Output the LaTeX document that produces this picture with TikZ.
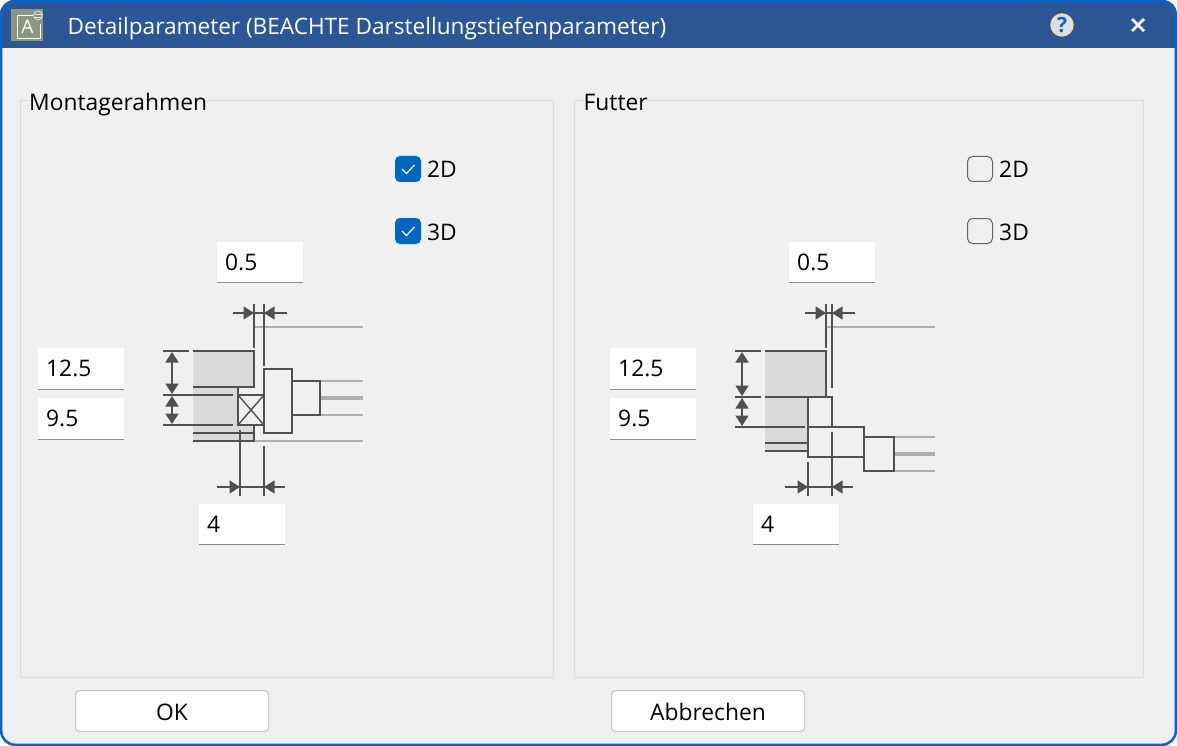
\documentclass[tikz,border=0pt]{standalone}
\usepackage{fontspec}
\setmainfont{Open Sans}
\usetikzlibrary{arrows.meta}
\definecolor{dialogbg}{HTML}{F0F0F0}
\definecolor{titlebar}{HTML}{2B5797}
\definecolor{winborder}{HTML}{0A64C8}
\definecolor{checkblue}{HTML}{0067C0}
\definecolor{darkline}{HTML}{505050}
\definecolor{greyline}{HTML}{B0B0B0}
\definecolor{wallfill}{HTML}{DADADA}
\definecolor{framegrey}{HTML}{DCDCDC}
\definecolor{iconfill}{HTML}{8A9780}
\tikzset{
    dline/.style={draw=darkline, line width=2pt},
    gline/.style={draw=greyline, line width=1.8pt},
    gthick/.style={draw=greyline, line width=4pt},
    dimarrow/.style={draw=darkline, line width=1.6pt, -{Triangle[length=10.5pt,width=13pt]}},
    wall/.style={fill=wallfill, draw=none},
    field/.style={fill=white, draw=none, minimum width=86pt, minimum height=41pt, inner sep=0pt},
    uitext/.style={anchor=base west, inner sep=0pt, text=black, font=\fontsize{22.8}{23}\selectfont},
    grouplabel/.style={uitext, fill=dialogbg, inner xsep=0pt, inner ysep=2pt},
    button/.style={fill=white, draw=black!22, line width=1pt, rounded corners=4pt, minimum width=193pt, minimum height=41pt, inner sep=0pt, text height=18pt, text depth=0pt, font=\fontsize{22.8}{23}\selectfont},
    checkbox/.style={rounded corners=5pt, minimum size=26pt, inner sep=0pt},
}
\begin{document}
\begin{tikzpicture}[x=1pt, y=-1pt]
    \useasboundingbox (0, 0) rectangle (1177, 746);
    % window
    \fill[white] (0, 0) rectangle (1177, 746);
    \fill[dialogbg, rounded corners=14pt] (0, 0) rectangle (1177, 746);
    \begin{scope}
        \clip[rounded corners=14pt] (0, 0) rectangle (1177, 746);
        \fill[titlebar] (0, 0) rectangle (1177, 48);
    \end{scope}
    \draw[winborder, line width=2.5pt, rounded corners=14pt] (1.2, 1.2) rectangle (1175.8, 744.8);
    % title bar
    \fill[iconfill] (11, 9) rectangle (43, 41);
    \draw[white, line width=0.9pt] (33, 15) -- (17, 15) -- (17, 38) -- (40, 38) -- (40, 24);
    \node[text=white, inner sep=0pt, font=\fontsize{19}{19}\selectfont] (iconA) at (27.5, 27) {A};
    \draw[white!75!iconfill, line width=0.8pt] (38, 15.5) circle (4.5);
    \draw[white!75!iconfill, line width=0.8pt] (34.5, 14.5) -- (41.5, 14.5) (34.5, 17) -- (41.5, 17);
    \node[uitext, text=white, font=\fontsize{22.6}{23}\selectfont] (title) at (67.5, 35) {Detailparameter (BEACHTE Darstellungstiefenparameter)};
    \draw[darkline, fill=black!13, line width=1.3pt] (1062, 25) circle (12.5);
    \node[text=winborder, inner sep=0pt, font=\fontsize{21}{21}\selectfont\bfseries] (help) at (1062, 25) {?};
    \draw[white, line width=2.6pt] (1132, 19) -- (1144, 31) (1144, 19) -- (1132, 31);
    % group frames
    \draw[framegrey, line width=1pt] (20.5, 100.5) rectangle (553.5, 677.5);
    \draw[framegrey, line width=1pt] (574.5, 100.5) rectangle (1143.5, 677.5);
    \node[grouplabel] (groupMontage) at (29, 111) {Montagerahmen};
    \node[grouplabel] (groupFutter) at (583.5, 111) {Futter};
    % check boxes
    \foreach \y/\t in {169/2D, 231/3D} {
        \node[checkbox, fill=checkblue] (checkL\t) at (408, \y) {};
        \draw[white, line width=1.2pt] (402, \y) -- (406.5, \y+4.5) -- (414.5, \y-4);
        \node[uitext] (textL\t) at (427, \y+9) {\t};
        \node[checkbox, draw=black!60, line width=1pt, minimum size=25pt] (checkR\t) at (980, \y) {};
        \node[uitext] (textR\t) at (999, \y+9) {\t};
    }
    % input fields
    \foreach \x/\y/\v[count=\i] in {260/262/0.5, 81/368.5/12.5, 81/418.5/9.5, 242/524/4, 832/262/0.5, 653/368.5/12.5, 653/418.5/9.5, 796/524/4} {
        \node[field] (field\i) at (\x, \y) {};
        \draw[black!45, line width=1pt] (field\i.south west) -- (field\i.south east);
        \node[uitext] (value\i) at (\x-35, \y+8) {\v};
    }
    % detail Montagerahmen
    \fill[wall] (193, 351) rectangle (254, 387);
    \fill[wall] (193, 387) rectangle (238, 441);
    \fill[wall] (238, 425) rectangle (254, 441);
    \draw[gline] (255, 327) -- (363, 327);
    \draw[gline] (254, 441) -- (363, 441);
    \draw[gline] (320, 381) -- (363, 381);
    \draw[gline] (320, 415) -- (363, 415);
    \draw[gthick] (320, 398) -- (363, 398);
    \draw[dline] (254, 304) -- (254, 348);
    \draw[dline] (264, 304) -- (264, 366);
    \draw[dline] (163, 351) -- (189, 351);
    \draw[dline] (193, 351) -- (254, 351) -- (254, 387) -- (193, 387);
    \draw[dline] (163, 395) -- (233, 395);
    \draw[dline] (163, 425) -- (233, 425);
    \draw[dline] (238, 395) rectangle (264, 425);
    \draw[dline] (238, 387) -- (238, 395);
    \draw[draw=darkline, line width=1.4pt] (238, 395) -- (264, 425) (238, 425) -- (264, 395);
    \draw[dline] (193, 433) -- (254, 433);
    \draw[dline] (193, 441) -- (254, 441) -- (254, 425);
    \draw[dline] (240, 430) -- (240, 496);
    \draw[dline] (264, 446) -- (264, 496);
    \draw[dline] (264, 369) rectangle (292, 433);
    \draw[dline] (292, 381) rectangle (320, 415);
    % dimensions Montagerahmen
    \draw[dimarrow] (233, 313) -- (254, 313);
    \draw[dimarrow] (287, 313) -- (264, 313);
    \draw[dline] (254, 313) -- (264, 313);
    \draw[dimarrow] (217, 487) -- (240, 487);
    \draw[dimarrow] (285, 487) -- (264, 487);
    \draw[dline] (240, 487) -- (264, 487);
    \draw[dimarrow] (172, 372) -- (172, 352);
    \draw[dimarrow] (172, 372) -- (172, 394);
    \draw[dimarrow] (172, 410) -- (172, 396);
    \draw[dimarrow] (172, 410) -- (172, 424);
    % detail Futter
    \fill[wall] (765, 351) rectangle (826, 397);
    \fill[wall] (765, 397) rectangle (808, 451);
    \draw[gline] (827, 327) -- (935, 327);
    \draw[gline] (894, 437) -- (935, 437);
    \draw[gline] (894, 471) -- (935, 471);
    \draw[gthick] (894, 454) -- (935, 454);
    \draw[dline] (826, 304) -- (826, 348);
    \draw[dline] (832, 304) -- (832, 388);
    \draw[dline] (735, 351) -- (761, 351);
    \draw[dline] (735, 397) -- (761, 397);
    \draw[dline] (765, 351) -- (826, 351) -- (826, 397);
    \draw[dline] (765, 397) -- (832, 397);
    \draw[dline] (735, 427) -- (805, 427);
    \draw[dline] (808, 397) rectangle (832, 427);
    \draw[dline] (808, 427) rectangle (864, 457);
    \draw[dline] (864, 437) rectangle (894, 471);
    \draw[dline] (765, 443) -- (808, 443);
    \draw[dline] (765, 451) -- (808, 451);
    \draw[dline] (808, 462) -- (808, 496);
    \draw[dline] (832, 432) -- (832, 496);
    % dimensions Futter
    \draw[dimarrow] (805, 313) -- (826, 313);
    \draw[dimarrow] (855, 313) -- (832, 313);
    \draw[dline] (826, 313) -- (832, 313);
    \draw[dimarrow] (785, 487) -- (808, 487);
    \draw[dimarrow] (853, 487) -- (832, 487);
    \draw[dline] (808, 487) -- (832, 487);
    \draw[dimarrow] (742, 375) -- (742, 352);
    \draw[dimarrow] (742, 375) -- (742, 396);
    \draw[dimarrow] (742, 412) -- (742, 398);
    \draw[dimarrow] (742, 412) -- (742, 426);
    % buttons
    \node[button] (buttonOK) at (172, 711) {OK};
    \node[button] (buttonAbbrechen) at (708, 711) {Abbrechen};
\end{tikzpicture}
\end{document}
